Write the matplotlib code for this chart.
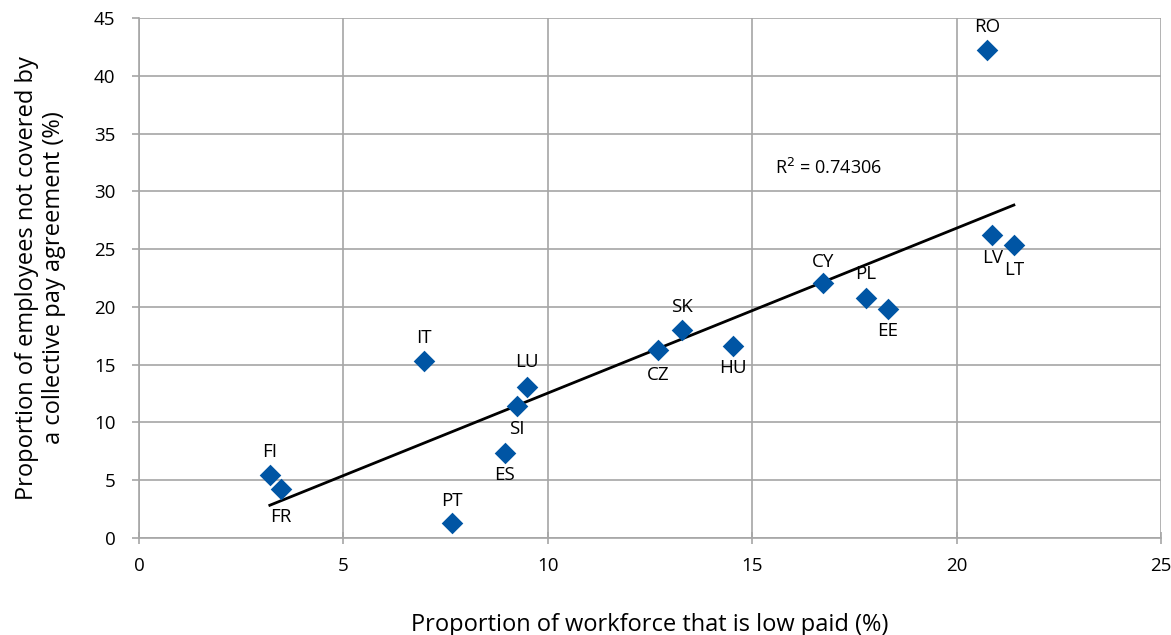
import numpy as np
import matplotlib
matplotlib.use("Agg")
import matplotlib.pyplot as plt

# ---------------- Data ----------------
countries = ["FI", "FR", "PT", "IT", "ES", "SI", "LU", "CZ", "SK", "HU",
             "CY", "PL", "EE", "RO", "LV", "LT"]
low_paid = [3.2, 3.47, 7.66, 6.97, 8.95, 9.25, 9.49, 12.7, 13.28, 14.53,
            16.73, 17.78, 18.32, 20.74, 20.87, 21.4]
not_covered = [5.45, 4.24, 1.3, 15.3, 7.35, 11.4, 13.06, 16.26, 18.0, 16.6,
               22.06, 20.76, 19.8, 42.2, 26.2, 25.35]
# label offsets (points) relative to marker
label_offsets = {
    "FI": (0, 16.5), "FR": (0, -20), "PT": (0, 16), "IT": (0, 16.5),
    "ES": (0, -15.5), "SI": (0, -16.5), "LU": (0, 18), "CZ": (0, -18),
    "SK": (0, 16.5), "HU": (0, -16), "CY": (0, 15.5), "PL": (0, 17),
    "EE": (0, -16), "RO": (0, 16.5), "LV": (0, -16.5), "LT": (0, -18),
}
r2_text = "R$^2$ = 0.74306"

plt.rcParams["font.family"] = ["Open Sans", "DejaVu Sans"]

fig = plt.figure(figsize=(11.71, 6.35), dpi=100)
ax = fig.add_axes([0.1187, 0.1528, 0.8728, 0.8189])

x = np.array(low_paid)
y = np.array(not_covered)
ax.scatter(x, y, marker="D", s=11**2, color="#0055a4", zorder=3, linewidths=0)

# linear trendline across data range
k, b = np.polyfit(x, y, 1)
xs = np.array([x.min(), x.max()])
ax.plot(xs, k * xs + b, color="black", lw=2, zorder=2)

for c, xi, yi in zip(countries, x, y):
    dx, dy = label_offsets[c]
    ax.annotate(c, (xi, yi), xytext=(dx, dy), textcoords="offset points",
                ha="center", va="center", fontsize=13.5)

ax.text(15.56, 32.0, r2_text, fontsize=13, va="center", ha="left")

ax.set_xlim(0, 25)
ax.set_ylim(0, 45)
ax.set_xticks(range(0, 26, 5))
ax.set_yticks(range(0, 46, 5))
ax.grid(True, color="#a6a6a6", lw=1.2)
ax.set_axisbelow(True)
for s in ["top", "right"]:
    ax.spines[s].set_visible(False)
for s in ["left", "bottom"]:
    ax.spines[s].set_color("#a6a6a6")
    ax.spines[s].set_linewidth(1.2)
ax.tick_params(axis="both", colors="#a6a6a6", labelcolor="black", labelsize=13.5,
               length=5, width=1.2)
ax.tick_params(axis="y", pad=12)
ax.tick_params(axis="x", direction="inout", length=8, pad=10)

ax.set_xlabel("Proportion of workforce that is low paid (%)", fontsize=17, labelpad=27)
ax.set_ylabel("Proportion of employees not covered by\na collective pay agreement (%)",
              fontsize=17, labelpad=20, multialignment="center")

fig.savefig("out.png", dpi=100)
